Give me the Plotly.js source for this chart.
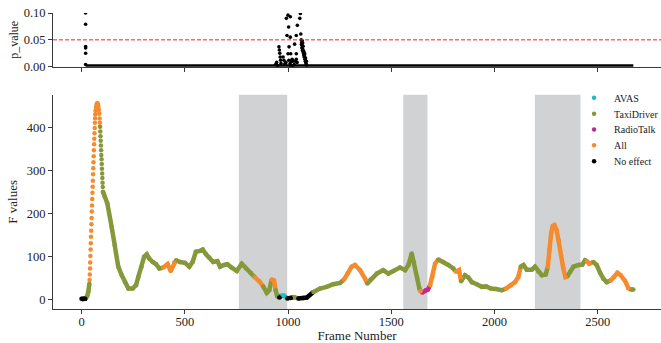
<!DOCTYPE html>
<html>
<head>
<meta charset="utf-8">
<script src="https://cdn.plot.ly/plotly-3.0.1.min.js"></script>
<style>html,body{margin:0;padding:0;background:#fff;}#chart{width:661px;height:343px;}</style>
</head>
<body>
<div id="chart"></div>
<script>
// ---- categories ----
const categories = ['AVAS', 'TaxiDriver', 'RadioTalk', 'All', 'No effect'];
const catCodes = ['V', 'T', 'R', 'A', 'N'];

// ---- F values: main (continuous) section ----
const mainFrames = [0,6,12,18, 22,28,33,38,
  105,112,125,146,162,178,195,211,227,248,264,275,291,303,316,328,345,361,377,
  396,417,432,448,
  458,477,501,522,538,554,574,587,603,619,638,658,671,690,706,727,752,776,797,819,
  840,861, 880,897,909, 921,932, 940,948, 958, 969,982, 997,1013, 1029, 1050,1074,1091,
  1123,1155,1187,1219,1252,
  1271,1289,1308,1324,1349,1373,
  1384,1400,1430,1461,1486,1510,1542,1567,1583,1599,1610,1626,1636,
  1641, 1650,1667,1678, 1688,1699,1712,
  1728,1752,1776,1800, 1814,1828,
  1838,1857,1873,1890,1914,1938,1959,1982,2007,2035,
  2056,2078,2099,2115,
  2127,2140,2156,2180,2196,2212,2229,2248,
  2258,2265,2274,2282,2290,2301,2311,2322,2333,2343,
  2353,2366,2382,2406,2425,2438, 2448,2459,
  2478,2495,2511,2527,2543,
  2563,2579,2595,2611,2632,2648, 2660,2672];
const mainValues = [1,0,1,1, 3,8,18,36,
  250,240,224,169,126,76,56,40,25,25,33,52,76,99,105,95,87,82,72,
  74,82,66,85,
  91,87,85,76,87,111,113,116,105,97,87,89,76,80,82,74,66,83,72,62,
  51,42, 30,15,21, 46,44, 21,7, 4, 9,8, 2,3, 5, 2,3,4,
  17,25,29,35,38,
  46,60,76,80,68,48,
  37,46,60,68,60,66,74,68,80,107,87,48,25,
  19, 16,21,23, 33,52,83,
  93,87,80,72, 64,68,
  42,56,51,40,35,29,30,25,24,21,
  25,33,40,52,
  76,80,69,69,76,64,56,58,
  76,115,154,171,173,161,138,103,72,52,
  54,64,76,80,81,91, 89,83,
  87,80,62,48,40,
  44,52,62,56,43,26, 23,23];
const mainCats = ['N','N','N','N', 'T','T','T','T',
  'T','T','T','T','T','T','T','T','T','T','T','T','T','T','T','T','T','T','T',
  'A','A','A','A',
  'T','T','T','T','T','T','T','T','T','T','T','T','T','T','T','T','T','T','T','T',
  'A','A', 'T','T','T', 'A','A', 'T','T', 'N', 'V','V', 'N','N', 'T', 'N','N','N',
  'T','T','T','T','T',
  'A','A','A','A','A','A',
  'T','T','T','T','T','T','T','T','T','T','T','T','T',
  'A', 'R','R','R', 'A','A','A',
  'T','T','T','T', 'A','A',
  'T','T','T','T','T','T','T','T','T','T',
  'A','A','A','A',
  'T','T','T','T','T','T','T','T',
  'A','A','A','A','A','A','A','A','A','A',
  'T','T','T','T','T','T', 'A','A',
  'T','T','T','T','T',
  'A','A','A','A','A','A', 'T','T'];

// ---- F values: steep peak section (sparse dots) ----
const peakFrames = [39,40,41,42,43,44,45,46,47,48,49,50,51,52,53,54,55,56,57,58,59,60,61,62,63,64,65,66,67,68,70,72,74,76,78,80,82,84,86,88,89,
  90,91,92,93,94,95,96,97,98,99,100,101,102,103,104];
const peakValues = [45,58,72,86,101,116,131,146,160,175,190,205,219,234,249,263,277,292,306,320,334,348,362,375,388,400,412,423,432,440,447,452,456,458,457,454,449,442,433,422,412,
  403,392,381,370,359,348,337,327,316,305,294,283,272,262,251];
const peakCats = ['A','A','A','A','A','A','A','A','A','A','A','A','A','A','A','A','A','A','A','A','A','A','A','A','A','A','A','A','A','A','A','A','A','A','A','A','A','A','A','A','A',
  'T','T','T','T','T','T','T','T','T','T','T','T','T','T','T'];

// ---- p values ----
const pFrames = [20,20,20,20,20,20,
  956,958,960,962,964,966, 976,980,986,
  992,1000,1011,1003,995,1011,1005,1000,1013,
  1004,1010,1016,1020,1024,1030,1036,1040,1044,1014,1026,
  1040,1032,1040,1045,1057,1060,
  1062,1064,1066,1068,1067,1070,1072,1074,1076,1078,1080,1082,1084,1086,1088,1090,1065,1069,1073,1071,1077,1081,1085,1089,
  940,945,950,985,990];
const pValues = [0.1,0.079,0.0375,0.035,0.025,0.004,
  0.037,0.031,0.025,0.018,0.012,0.006, 0.018,0.012,0.006,
  0.09,0.096,0.093,0.074,0.058,0.055,0.037,0.024,0.024,
  0.012,0.006,0.010,0.014,0.010,0.004,0.010,0.014,0.008,0.002,0.002,
  0.024,0.042,0.058,0.077,0.09,0.099,
  0.061,0.05,0.045,0.04,0.035,0.03,0.032,0.026,0.022,0.018,0.02,0.014,0.01,0.008,0.005,0.003,0.042,0.048,0.038,0.044,0.028,0.024,0.016,0.01,
  0.004,0.008,0.002,0.004,0.008];
const pZeroFrames = [20, 2672];
const pZeroValues = [0, 0];
const pThreshold = 0.05;

// ---- highlighted frame spans ----
const spanStarts = [762, 1558, 2195];
const spanEnds = [996, 1675, 2416];

// ---- ticks ----
const xTicks = [0, 500, 1000, 1500, 2000, 2500];
const yTicksF = [0, 100, 200, 300, 400];
const yTicksP = [0, 0.05, 0.10];

const colors = {V: '#1dbfc5', T: '#86993a', R: '#c7268f', A: '#f68b2e', N: '#000000'};
const FONT = 'Liberation Serif, Times New Roman, serif';
const TXT = '#222';
const AX = '#3a3a3a';
const MAX_GAP = 50; // frames without samples -> break the line

// build line runs per category (connect each run to the next point)
function lineTrace(code) {
  const xs = [], ys = [];
  for (let i = 0; i < mainFrames.length; i++) {
    if (mainCats[i] !== code) continue;
    xs.push(mainFrames[i]); ys.push(mainValues[i]);
    const hasNext = i + 1 < mainFrames.length;
    const bigGap = hasNext && (mainFrames[i + 1] - mainFrames[i] > MAX_GAP);
    if (hasNext && bigGap) {
      xs.push(null); ys.push(null);
    } else if (hasNext && mainCats[i + 1] !== code) {
      xs.push(mainFrames[i + 1]); ys.push(mainValues[i + 1]);
      xs.push(null); ys.push(null);
    }
  }
  return {x: xs, y: ys, type: 'scatter', mode: 'lines', xaxis: 'x', yaxis: 'y',
    line: {color: colors[code], width: 4.5}, showlegend: false, hoverinfo: 'skip'};
}
function markerTrace(code, name, idx) {
  const xs = [], ys = [];
  for (let i = 0; i < mainFrames.length; i++) if (mainCats[i] === code) { xs.push(mainFrames[i]); ys.push(mainValues[i]); }
  for (let i = 0; i < peakFrames.length; i++) if (peakCats[i] === code) { xs.push(peakFrames[i]); ys.push(peakValues[i]); }
  return {x: xs, y: ys, type: 'scatter', mode: 'markers', name: name, xaxis: 'x', yaxis: 'y',
    marker: {color: colors[code], size: 4.5}, legend: idx === 0 ? 'legend' : 'legend' + (idx + 1)};
}

const traces = [];
catCodes.forEach(c => traces.push(lineTrace(c)));
catCodes.forEach((c, i) => traces.push(markerTrace(c, categories[i], i)));
traces.push({x: pZeroFrames, y: pZeroValues, type: 'scatter', mode: 'lines', xaxis: 'x2', yaxis: 'y2',
  line: {color: '#000', width: 5}, showlegend: false});
traces.push({x: pFrames, y: pValues, type: 'scatter', mode: 'markers', xaxis: 'x2', yaxis: 'y2',
  marker: {color: '#000', size: 3.6}, showlegend: false});

const shapes = spanStarts.map((s, i) => ({type: 'rect', xref: 'x', yref: 'y domain', x0: s, x1: spanEnds[i], y0: 0, y1: 1,
  fillcolor: 'rgb(208,210,211)', line: {width: 0}, layer: 'below'}));
shapes.push({type: 'line', xref: 'x2 domain', yref: 'y2', x0: 0, x1: 1, y0: pThreshold, y1: pThreshold,
  line: {color: '#ff1a1a', width: 1, dash: '4px,2px'}});

const axisCommon = {showgrid: false, zeroline: false, showline: true, linecolor: AX, linewidth: 1,
  ticks: 'outside', ticklen: 4, tickcolor: AX, tickwidth: 1,
  tickfont: {family: FONT, size: 12.5, color: TXT}};

const legendBase = {x: 0.857, xanchor: 'left', yanchor: 'top', bgcolor: 'rgba(0,0,0,0)',
  borderwidth: 0, font: {family: FONT, size: 10, color: TXT}};
const legendTops = [0.7625, 0.7090, 0.6554, 0.6019, 0.5483];

const layout = {
  width: 661, height: 343,
  margin: {l: 53, r: 0, t: 13, b: 34, autoexpand: false},
  paper_bgcolor: '#fff', plot_bgcolor: 'rgba(0,0,0,0)',
  showlegend: true,
  xaxis: Object.assign({}, axisCommon, {domain: [0, 1], anchor: 'y', range: [-138, 2806],
    tickvals: xTicks, ticktext: xTicks.map(String), ticklabelstandoff: -3,
    title: {text: 'Frame Number', font: {family: FONT, size: 13, color: TXT}, standoff: 9}}),
  yaxis: Object.assign({}, axisCommon, {domain: [0, 0.724], anchor: 'x', range: [-22.75, 477.75],
    tickvals: yTicksF, ticktext: yTicksF.map(String),
    title: {text: 'F values', font: {family: FONT, size: 13, color: TXT}, standoff: 6}}),
  xaxis2: Object.assign({}, axisCommon, {domain: [0, 1], anchor: 'y2', matches: 'x', range: [-138, 2806],
    tickvals: xTicks, showticklabels: false}),
  yaxis2: Object.assign({}, axisCommon, {domain: [0.8186, 1], anchor: 'x2', range: [0, 0.1],
    tickvals: yTicksP, ticktext: yTicksP.map(v => v.toFixed(2)),
    title: {text: 'p_value', font: {family: FONT, size: 12, color: TXT}, standoff: 2}}),
  shapes: shapes
};
legendTops.forEach((t, i) => {
  layout[i === 0 ? 'legend' : 'legend' + (i + 1)] = Object.assign({}, legendBase, {y: t});
});

Plotly.newPlot('chart', traces, layout, {staticPlot: true, displayModeBar: false});
</script>
</body>
</html>
